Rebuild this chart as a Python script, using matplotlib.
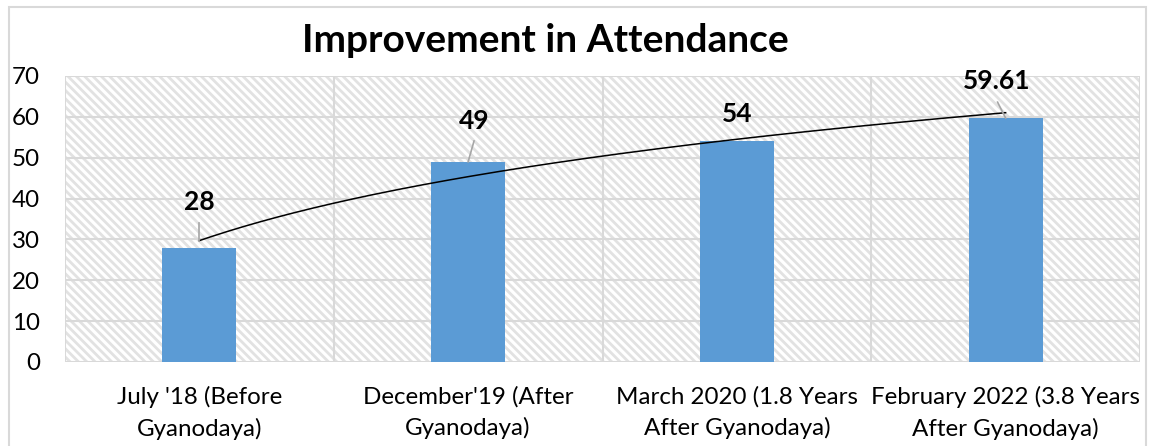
import numpy as np
import matplotlib
matplotlib.use("Agg")
import matplotlib.pyplot as plt
from matplotlib.patches import Rectangle

categories = ["July '18 (Before\nGyanodaya)", "December'19 (After\nGyanodaya)",
              "March 2020 (1.8 Years\nAfter Gyanodaya)", "February 2022 (3.8 Years\nAfter Gyanodaya)"]
values = [28, 49, 54, 59.61]
value_labels = ["28", "49", "54", "59.61"]
yticks = [0, 10, 20, 30, 40, 50, 60, 70]

plt.rcParams['font.family'] = ['Lato', 'DejaVu Sans']
plt.rcParams['hatch.linewidth'] = 2.0

fig = plt.figure(figsize=(11.52, 4.46), dpi=100)
ax = fig.add_axes([65/1152, 1-362/446, (1140-65)/1152, (362-76)/446])

grid_c = '#d9d9d9'
# hatched plot-area background
ax.add_patch(Rectangle((0, 0), 1, 1, transform=ax.transAxes, facecolor='white',
                       edgecolor='#e2e2e2', hatch='\\\\\\\\', lw=0, zorder=0))

x = np.arange(len(values))
ax.bar(x, values, width=0.276, color='#5b9bd5', zorder=2)

# logarithmic trend line fitted to the data
xl = x + 1
b, a = np.polyfit(np.log(xl), values, 1)
xs = np.linspace(1, len(values), 200)
ax.plot(xs - 1, a + b * np.log(xs), color='black', lw=1.1, zorder=3)

# data labels with leader lines
label_pos = [(0.0, 39.2), (0.022, 59.1), (0.0, 60.8), (-0.034, 68.8)]
leaders = [((0.0, 34.0), (0.0, 29.6)), ((0.022, 54.1), (0.0, 49.0)), None,
           ((-0.03, 63.6), (0.0, 59.7))]
for i, (dx, ly) in enumerate(label_pos):
    ax.text(x[i] + dx, ly, value_labels[i], ha='center', va='center',
            fontsize=19, fontweight='bold', color='black', zorder=4)
    if leaders[i] is not None:
        (x0, y0), (x1, y1) = leaders[i]
        ax.plot([x[i] + x0, x[i] + x1], [y0, y1], color='#a6a6a6', lw=1.2, zorder=4)

ax.set_xlim(-0.5, len(values) - 0.5)
ax.set_ylim(0, 70)
ax.set_yticks(yticks)
ax.set_xticks(x)
ax.set_xticklabels(categories, fontsize=17.4, linespacing=1.55)
ax.set_xticks(np.arange(-0.5, len(values), 1.0), minor=True)
ax.tick_params(axis='both', which='both', length=0)
ax.tick_params(axis='y', labelsize=17.4, pad=18)
ax.tick_params(axis='x', pad=17)
ax.set_axisbelow(True)
ax.grid(axis='y', which='major', color=grid_c, lw=1.5)
ax.grid(axis='x', which='minor', color=grid_c, lw=1.5)
ax.grid(axis='x', which='major', visible=False)
for s in ax.spines.values():
    s.set_visible(False)

fig.text(545/1152, 1-40/446, "Improvement in Attendance", ha='center', va='center',
         fontsize=28, fontweight='bold')

fig.patches.append(Rectangle((9/1152, -0.05), (1146-9)/1152, 1.05 - 7/446,
                             transform=fig.transFigure, fill=False,
                             edgecolor=grid_c, lw=1.5))

fig.savefig('out.png', dpi=100)
